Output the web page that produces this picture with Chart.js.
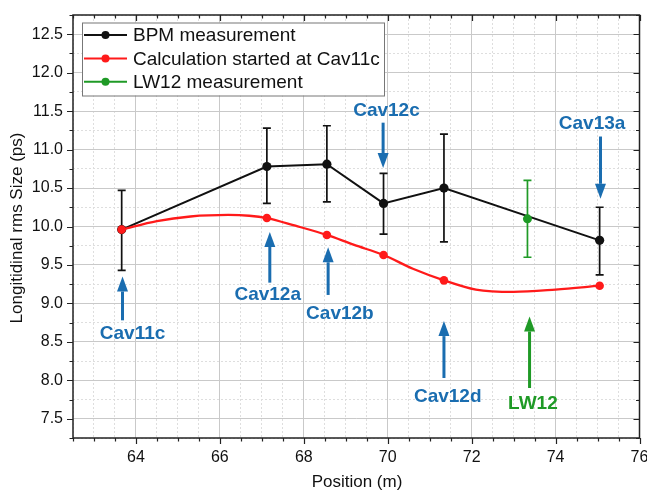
<!DOCTYPE html>
<html>
<head>
<meta charset="utf-8">
<script src="https://cdn.jsdelivr.net/npm/chart.js@4/dist/chart.umd.min.js"></script>
<style>
  html, body { margin: 0; padding: 0; background: #fff; }
  #wrap { width: 647px; height: 495px; position: relative; }
</style>
</head>
<body>
<div id="wrap"><canvas id="bunchChart"></canvas></div>
<script>
// BPM measurement (with error bars)
const bpmX = [63.66, 67.12, 68.55, 69.90, 71.34, 75.05];
const bpmY = [9.96, 10.78, 10.81, 10.30, 10.50, 9.82];
const bpmHi = [10.47, 11.28, 11.31, 10.69, 11.20, 10.25];
const bpmLo = [9.43, 10.30, 10.32, 9.90, 9.80, 9.37];

// calculation started at Cav11c: markers and the smooth curve
const calcX = [63.66, 67.12, 68.55, 69.90, 71.34, 75.05];
const calcY = [9.96, 10.11, 9.89, 9.63, 9.30, 9.23];
const curveX = [63.66, 64.5, 65.3, 66.2, 66.7, 67.12, 67.8, 68.55, 69.2, 69.9, 70.6, 71.34, 72.1, 73.0, 74.0, 75.05];
const curveY = [9.96, 10.07, 10.13, 10.15, 10.14, 10.11, 10.01, 9.89, 9.76, 9.63, 9.45, 9.30, 9.18, 9.15, 9.18, 9.23];

// LW12 measurement
const lwX = [73.33];
const lwY = [10.10];
const lwHi = [10.60];
const lwLo = [9.60];

// arrows + labels (data coordinates)
const annoLabels = ['Cav11c', 'Cav12a', 'Cav12b', 'Cav12c', 'Cav12d', 'LW12', 'Cav13a'];
const annoX = [63.68, 67.19, 68.58, 69.89, 71.34, 73.38, 75.07];
const annoTail = [8.78, 9.27, 9.11, 11.35, 8.03, 7.90, 11.17];
const annoTip = [9.35, 9.93, 9.73, 10.76, 8.77, 8.83, 10.36];
const annoLabelX = [63.92, 67.14, 68.86, 69.97, 71.43, 73.46, 74.87];
const annoLabelY = [8.61, 9.11, 8.87, 11.50, 7.78, 7.70, 11.33];

const legendItems = ['BPM measurement', 'Calculation started at Cav11c', 'LW12 measurement'];

const BLUE = '#1a6db0';
const GREEN = '#1f9a26';
const RED = '#ff1a1a';
const FONT = '"Liberation Sans", Arial, sans-serif';

function pts(xs, ys) {
  return xs.map((x, i) => ({ x: x, y: ys[i] }));
}

function isMajorX(v) { return Math.abs(v / 2 - Math.round(v / 2)) < 1e-6; }
function isMajorY(v) { return Math.abs(v * 2 - Math.round(v * 2)) < 1e-6; }

// 誤差棒
const errorBarPlugin = {
  id: 'errorBars',
  beforeDatasetsDraw(chart) {
    const { ctx, scales: { x, y } } = chart;
    const draw = (xs, lo, hi, color) => {
      ctx.save();
      ctx.strokeStyle = color;
      ctx.lineWidth = 1.7;
      xs.forEach((v, i) => {
        const px = x.getPixelForValue(v);
        const pLo = y.getPixelForValue(lo[i]);
        const pHi = y.getPixelForValue(hi[i]);
        ctx.beginPath();
        ctx.moveTo(px, pLo); ctx.lineTo(px, pHi);
        ctx.moveTo(px - 4, pLo); ctx.lineTo(px + 4, pLo);
        ctx.moveTo(px - 4, pHi); ctx.lineTo(px + 4, pHi);
        ctx.stroke();
      });
      ctx.restore();
    };
    draw(bpmX, bpmLo, bpmHi, '#111');
    draw(lwX, lwLo, lwHi, GREEN);
  }
};

// 枠・目盛・矢印・凡例・軸タイトル
const decorPlugin = {
  id: 'decor',
  afterDraw(chart) {
    const { ctx, chartArea: a, scales: { x, y } } = chart;
    ctx.save();

    // frame
    ctx.strokeStyle = '#222';
    ctx.lineWidth = 1.5;
    ctx.strokeRect(a.left, a.top, a.right - a.left, a.bottom - a.top);

    // tick marks
    ctx.lineWidth = 1.2;
    ctx.beginPath();
    for (let v = 62.5; v <= 76.001; v += 0.5) {
      const px = Math.round(x.getPixelForValue(v)) + 0.5;
      const len = isMajorX(v) ? 6 : 3.5;
      ctx.moveTo(px, a.bottom); ctx.lineTo(px, a.bottom + len);
      ctx.moveTo(px, a.top); ctx.lineTo(px, a.top + len);
    }
    for (let v = 7.25; v <= 12.751; v += 0.25) {
      const py = Math.round(y.getPixelForValue(v)) + 0.5;
      const len = isMajorY(v) ? 6 : 3.5;
      ctx.moveTo(a.left, py); ctx.lineTo(a.left - len, py);
      ctx.moveTo(a.right, py); ctx.lineTo(a.right - len, py);
    }
    ctx.stroke();

    // arrows
    annoLabels.forEach((lab, i) => {
      const color = lab === 'LW12' ? GREEN : BLUE;
      const px = x.getPixelForValue(annoX[i]);
      const pTail = y.getPixelForValue(annoTail[i]);
      const pTip = y.getPixelForValue(annoTip[i]);
      const dir = pTip < pTail ? -1 : 1;
      const headLen = 15, headW = 5.5;
      const base = pTip - dir * headLen;
      ctx.strokeStyle = color;
      ctx.fillStyle = color;
      ctx.lineWidth = 3;
      ctx.beginPath();
      ctx.moveTo(px, pTail); ctx.lineTo(px, base);
      ctx.stroke();
      ctx.beginPath();
      ctx.moveTo(px, pTip);
      ctx.lineTo(px - headW, base);
      ctx.lineTo(px + headW, base);
      ctx.closePath();
      ctx.fill();

      ctx.font = 'bold 19px ' + FONT;
      ctx.textAlign = 'center';
      ctx.textBaseline = 'middle';
      ctx.fillText(lab, x.getPixelForValue(annoLabelX[i]), y.getPixelForValue(annoLabelY[i]));
    });

    // legend
    const lx = 82, ly = 22.5, lw = 302, lh = 73;
    ctx.fillStyle = '#fff';
    ctx.fillRect(lx, ly, lw, lh);
    ctx.strokeStyle = '#777';
    ctx.lineWidth = 1;
    ctx.strokeRect(lx + 0.5, ly + 0.5, lw, lh);
    const colors = ['#111', RED, GREEN];
    legendItems.forEach((txt, i) => {
      const cy = 35 + i * 23.4;
      ctx.strokeStyle = colors[i];
      ctx.fillStyle = colors[i];
      ctx.lineWidth = 2;
      ctx.beginPath();
      ctx.moveTo(84, cy); ctx.lineTo(127, cy);
      ctx.stroke();
      ctx.beginPath();
      ctx.arc(105.5, cy, 4, 0, Math.PI * 2);
      ctx.fill();
      ctx.fillStyle = '#111';
      ctx.font = '19px ' + FONT;
      ctx.textAlign = 'left';
      ctx.textBaseline = 'middle';
      ctx.fillText(txt, 133, cy + 1);
    });

    // axis titles
    ctx.fillStyle = '#111';
    ctx.font = '17px ' + FONT;
    ctx.textAlign = 'center';
    ctx.textBaseline = 'middle';
    ctx.fillText('Position (m)', 357, 482);
    ctx.translate(17, 228);
    ctx.rotate(-Math.PI / 2);
    ctx.fillText('Longitidinal rms Size (ps)', 0, 0);

    ctx.restore();
  }
};

const gridColor = (major) => major ? '#c9c9c9' : '#dedede';

const ctx = document.getElementById('bunchChart');
const bunchChart = new Chart(ctx, {
  type: 'line',
  data: {
    datasets: [
      {
        label: 'Calculation markers',
        data: pts(calcX, calcY),
        showLine: false,
        pointRadius: 4.3,
        pointBackgroundColor: RED,
        pointBorderWidth: 0
      },
      {
        label: 'Calculation started at Cav11c',
        data: pts(curveX, curveY),
        borderColor: RED,
        borderWidth: 2.3,
        pointRadius: 0,
        cubicInterpolationMode: 'monotone',
        fill: false
      },
      {
        label: 'LW12 measurement',
        data: pts(lwX, lwY),
        showLine: false,
        pointRadius: 4.5,
        pointBackgroundColor: GREEN,
        pointBorderWidth: 0
      },
      {
        label: 'BPM measurement',
        data: pts(bpmX, bpmY),
        borderColor: '#111',
        borderWidth: 2,
        pointRadius: 4.6,
        pointBackgroundColor: '#111',
        pointBorderWidth: 0,
        tension: 0
      }
    ]
  },
  options: {
    responsive: true,
    maintainAspectRatio: false,
    animation: false,
    layout: { padding: { top: 15, right: 7.5, left: 0, bottom: 0 } },
    plugins: {
      legend: { display: false },
      tooltip: { enabled: false }
    },
    scales: {
      x: {
        type: 'linear',
        min: 62.5,
        max: 76,
        afterFit: (scale) => {
          scale.height = 57;
          scale.paddingLeft = 0;
          scale.paddingRight = 0;
        },
        afterBuildTicks: (scale) => {
          const t = [];
          for (let v = 62.5; v <= 76.001; v += 0.5) t.push({ value: v });
          scale.ticks = t;
        },
        ticks: {
          autoSkip: false,
          maxRotation: 0,
          padding: 10,
          color: '#111',
          font: { family: FONT, size: 16 },
          callback: (v) => isMajorX(v) ? String(v) : ''
        },
        grid: {
          drawTicks: false,
          color: (c) => c.tick && isMajorX(c.tick.value) ? gridColor(true) : gridColor(false),
          lineWidth: 1
        },
        border: {
          display: false,
          dash: (c) => (c.tick && !isMajorX(c.tick.value)) ? [2, 2] : []
        }
      },
      y: {
        type: 'linear',
        min: 7.25,
        max: 12.75,
        afterFit: (scale) => {
          scale.width = 73;
          scale.paddingTop = 0;
          scale.paddingBottom = 0;
        },
        afterBuildTicks: (scale) => {
          const t = [];
          for (let v = 7.25; v <= 12.751; v += 0.25) t.push({ value: v });
          scale.ticks = t;
        },
        ticks: {
          autoSkip: false,
          padding: 10,
          color: '#111',
          font: { family: FONT, size: 16 },
          callback: (v) => isMajorY(v) ? v.toFixed(1) : ''
        },
        grid: {
          drawTicks: false,
          color: (c) => c.tick && isMajorY(c.tick.value) ? gridColor(true) : gridColor(false),
          lineWidth: 1
        },
        border: {
          display: false,
          dash: (c) => (c.tick && !isMajorY(c.tick.value)) ? [2, 2] : []
        }
      }
    }
  },
  plugins: [errorBarPlugin, decorPlugin]
});
</script>
</body>
</html>
